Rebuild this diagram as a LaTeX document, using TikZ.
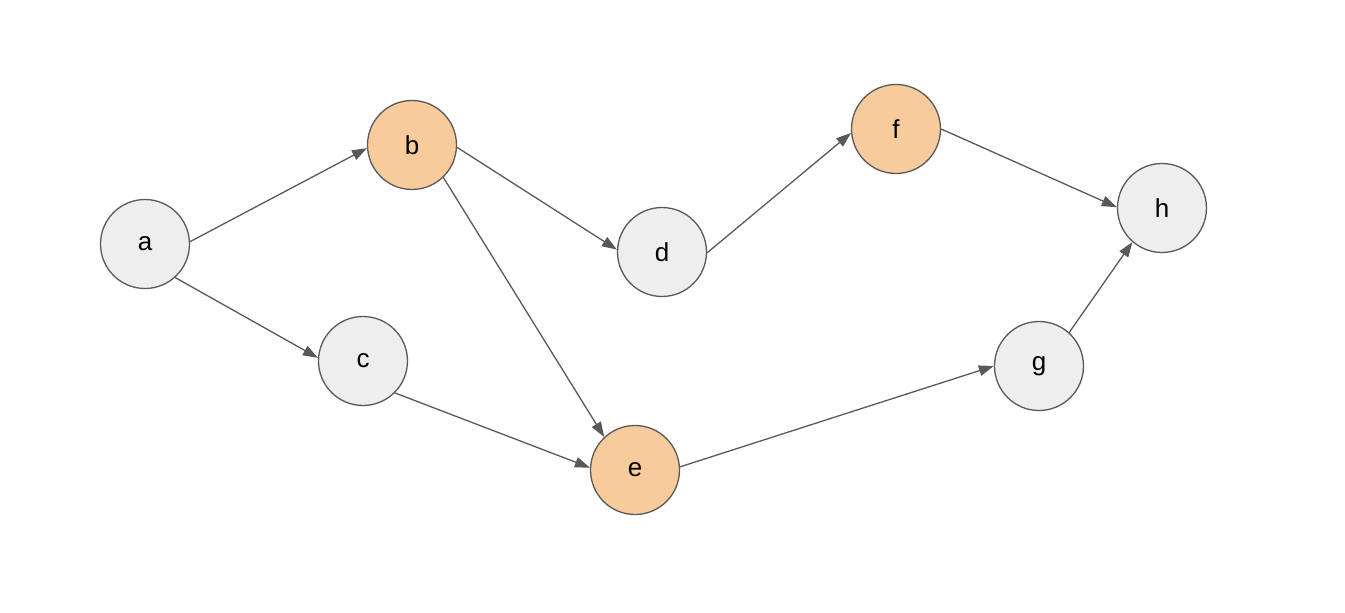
\documentclass[tikz,border=0pt]{standalone}
\usepackage{fontspec}
\setmainfont{Liberation Sans}
\usetikzlibrary{arrows.meta}
\definecolor{nodegray}{HTML}{EEEEEE}
\definecolor{nodeorange}{HTML}{F8CB9C}
\definecolor{edgecol}{HTML}{595959}
\tikzset{
  vert/.style={circle, draw=edgecol, line width=1.3pt, minimum size=89pt, inner sep=0pt, font=\fontsize{26}{30}\selectfont},
  plain/.style={vert, fill=nodegray},
  hot/.style={vert, fill=nodeorange},
  edge/.style={draw=edgecol, line width=1.3pt, -{Triangle[length=15pt,width=10.5pt]}}
}
\begin{document}
\begin{tikzpicture}[x=1pt,y=-1pt]
\useasboundingbox (0,0) rectangle (1345,613);
\node[plain] (a) at (145,244) {a};
\node[hot]   (b) at (412,145) {b};
\node[plain] (c) at (363,361) {c};
\node[plain] (d) at (662,252) {d};
\node[hot]   (e) at (635,470) {e};
\node[hot]   (f) at (896,129) {f};
\node[plain] (g) at (1039,366) {g};
\node[plain] (h) at (1162,208) {h};
\draw[edge] (a.3) -- (b.184);
\draw[edge] (a.-48) -- (c.176);
\draw[edge] (b.-3) -- (d.177);
\draw[edge] (b.-46) -- (e.133);
\draw[edge] (c.-45) -- (e.177);
\draw[edge] (d.-1) -- (f.185);
\draw[edge] (f.0) -- (h.179);
\draw[edge] (e.4) -- (g.180);
\draw[edge] (g.48) -- (h.229);
\end{tikzpicture}
\end{document}
